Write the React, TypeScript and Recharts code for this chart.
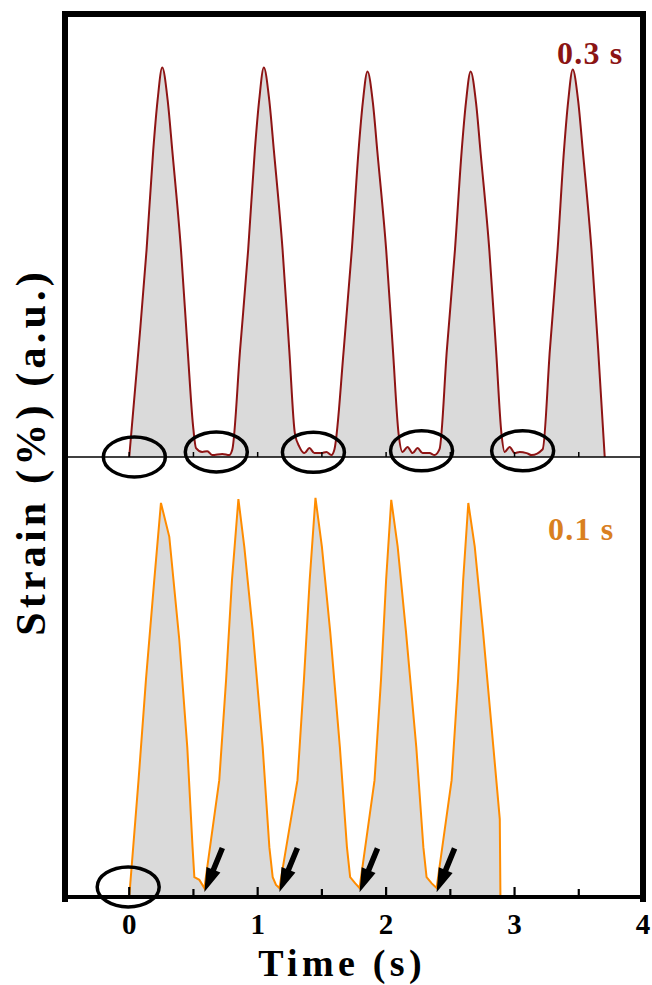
import React from 'react';
import { ComposedChart, Area, XAxis, YAxis, ReferenceDot, Label } from 'recharts';

// ---- Top panel (0.3 s) ----
const topTime = [
  0, 0.072, 0.135, 0.187, 0.221, 0.257, 0.299, 0.335, 0.403, 0.455, 0.497,
  0.52, 0.569, 0.608, 0.647, 0.725, 0.779, 0.803,
  0.863, 0.926, 0.978, 1.012, 1.048, 1.09, 1.126, 1.194, 1.246, 1.29,
  1.325, 1.364, 1.403, 1.442, 1.496, 1.535, 1.574, 1.598,
  1.67, 1.733, 1.785, 1.819, 1.855, 1.897, 1.933, 2.001, 2.053, 2.097,
  2.128, 2.167, 2.206, 2.245, 2.284, 2.338, 2.377, 2.416,
  2.473, 2.536, 2.588, 2.622, 2.658, 2.7, 2.736, 2.804, 2.856, 2.898,
  2.923, 2.962, 3.001, 3.04, 3.094, 3.133, 3.219,
  3.275, 3.335, 3.385, 3.418, 3.453, 3.495, 3.531, 3.599, 3.651, 3.702,
];
const topStrain = [
  0, 0.275, 0.532, 0.788, 0.917, 1.0, 0.917, 0.788, 0.532, 0.275, 0.08,
  0.023, 0.013, 0.015, 0.005, 0.008, 0.005, 0.02,
  0.275, 0.532, 0.788, 0.917, 1.0, 0.917, 0.788, 0.532, 0.275, 0.06,
  0.026, 0.01, 0.023, 0.01, 0.01, 0.013, 0.005, 0.02,
  0.275, 0.532, 0.785, 0.912, 0.99, 0.91, 0.78, 0.53, 0.275, 0.06,
  0.013, 0.026, 0.01, 0.023, 0.01, 0.01, 0.005, 0.02,
  0.275, 0.532, 0.785, 0.912, 0.99, 0.91, 0.78, 0.53, 0.275, 0.06,
  0.013, 0.026, 0.01, 0.013, 0.01, 0.005, 0.02,
  0.275, 0.532, 0.788, 0.915, 0.995, 0.915, 0.788, 0.532, 0.275, 0,
];

// ---- Bottom panel (0.1 s) ----
const bottomTime = [
  0, 0.0725, 0.13, 0.195, 0.247, 0.312, 0.39, 0.452, 0.493, 0.507, 0.546, 0.585,
  0.701, 0.754, 0.8, 0.85, 0.896, 0.961, 1.039, 1.091, 1.117, 1.143, 1.169,
  1.31, 1.36, 1.405, 1.45, 1.5, 1.565, 1.64, 1.695, 1.72, 1.76, 1.793,
  1.91, 1.96, 2.0, 2.04, 2.09, 2.155, 2.235, 2.29, 2.315, 2.355, 2.393,
  2.51, 2.56, 2.6, 2.64, 2.69, 2.755, 2.835, 2.885, 2.89,
];
const bottomStrain = [
  0, 0.3, 0.557, 0.814, 1.012, 0.925, 0.66, 0.385, 0.128, 0.051, 0.044, 0.023,
  0.3, 0.557, 0.814, 1.022, 0.899, 0.686, 0.385, 0.128, 0.051, 0.031, 0.023,
  0.3, 0.557, 0.814, 1.025, 0.9, 0.68, 0.385, 0.128, 0.051, 0.035, 0.023,
  0.3, 0.557, 0.814, 1.02, 0.9, 0.68, 0.385, 0.128, 0.051, 0.035, 0.023,
  0.3, 0.557, 0.814, 1.012, 0.9, 0.68, 0.385, 0.2, 0,
];

const xTicks = [-0.5, 0, 0.5, 1, 1.5, 2, 2.5, 3, 3.5, 4];
const xTickLabels = ['0', '1', '2', '3', '4'];

// annotation anchors (data coordinates)
const topCircleT = [0.04, 0.678, 1.434, 2.276, 3.063];
const topCircleV = [0, 0.013, 0.012, 0.016, 0.016];
const bottomCircleT = [-0.008];
const bottomCircleV = [0.026];
const arrowT = [0.585, 1.169, 1.793, 2.393];
const arrowV = [0.013, 0.013, 0.012, 0.012];

const topData = topTime.map((t, i) => ({ t, v: topStrain[i] }));
const bottomData = bottomTime.map((t, i) => ({ t, v: bottomStrain[i] }));

const FONT = '"Liberation Serif", "Times New Roman", serif';
const W = 652;
const H = 985;

const TopTick = (props: any) => {
  const { x, y } = props;
  return <line x1={x} x2={x} y1={y} y2={y - 5} stroke="#000" strokeWidth={1.5} />;
};

const BottomTick = (props: any) => {
  const { x, y, payload } = props;
  const val = payload.value;
  const major = Number.isInteger(val);
  return (
    <g>
      <line x1={x} x2={x} y1={y} y2={y - (major ? 10 : 8)} stroke="#000" strokeWidth={2.2} />
      {major && val >= 0 && (
        <text x={x} y={y + 37} textAnchor="middle" fontFamily={FONT} fontWeight="bold" fontSize={29} fill="#000">
          {xTickLabels[val]}
        </text>
      )}
    </g>
  );
};

const EllipseShape = (props: any) => (
  <ellipse cx={props.cx} cy={props.cy} rx={31} ry={20} fill="none" stroke="#000" strokeWidth={3.5} />
);

const ArrowShape = (props: any) => {
  const { cx, cy } = props;
  const dx = 18, dy = -44;
  const L = Math.hypot(dx, dy);
  const ux = dx / L, uy = dy / L;
  const px = -uy, py = ux;
  const headLen = 24, headW = 7.5, shaftW = 2.8;
  const bx = cx + ux * headLen, by = cy + uy * headLen;
  const tx = cx + ux * L, ty = cy + uy * L;
  const pts = [
    [cx, cy],
    [bx + px * headW, by + py * headW],
    [bx + px * shaftW, by + py * shaftW],
    [tx + px * shaftW, ty + py * shaftW],
    [tx - px * shaftW, ty - py * shaftW],
    [bx - px * shaftW, by - py * shaftW],
    [bx - px * headW, by - py * headW],
  ];
  return <polygon points={pts.map((p) => p.join(',')).join(' ')} fill="#000" />;
};

export default function App() {
  return (
    <div style={{ position: 'absolute', left: 0, top: 0, width: W, height: H, background: '#fff' }}>
      {/* bottom panel */}
      <div style={{ position: 'absolute', left: 0, top: 0 }}>
        <ComposedChart width={W} height={H} data={bottomData} margin={{ top: 457, right: 9, left: 65, bottom: 0 }}>
          <XAxis
            type="number"
            dataKey="t"
            domain={[-0.5, 4]}
            ticks={xTicks}
            allowDataOverflow
            height={88}
            tickSize={0}
            tickMargin={0}
            tickLine={false}
            tick={<BottomTick />}
            axisLine={{ stroke: '#000', strokeWidth: 4 }}
            interval={0}
          >
            <Label
              value="Time (s)"
              position="insideBottom"
              offset={9}
              dx={-12}
              style={{ fontFamily: FONT, fontWeight: 'bold', fontSize: 38, fill: '#000', letterSpacing: 4.3 }}
            />
          </XAxis>
          <YAxis type="number" domain={[0, 1.13]} hide allowDataOverflow />
          <Area
            type="linear"
            dataKey="v"
            stroke="#FF8C00"
            strokeWidth={2}
            fill="#DADADA"
            fillOpacity={1}
            baseValue={0}
            dot={false}
            activeDot={false}
            isAnimationActive={false}
          />
          {bottomCircleT.map((t, i) => (
            <ReferenceDot key={'bc' + i} x={t} y={bottomCircleV[i]} r={0} ifOverflow="visible" shape={<EllipseShape />} />
          ))}
          {arrowT.map((t, i) => (
            <ReferenceDot key={'ar' + i} x={t} y={arrowV[i]} r={0} ifOverflow="visible" shape={<ArrowShape />} />
          ))}
        </ComposedChart>
      </div>
      {/* top panel */}
      <div style={{ position: 'absolute', left: 0, top: 0 }}>
        <ComposedChart width={W} height={H} data={topData} margin={{ top: 17, right: 9, left: 65, bottom: 526 }}>
          <XAxis
            type="number"
            dataKey="t"
            domain={[-0.5, 4]}
            ticks={xTicks}
            allowDataOverflow
            height={2}
            tickSize={0}
            tickMargin={0}
            tickLine={false}
            tick={<TopTick />}
            axisLine={{ stroke: '#000', strokeWidth: 1.6 }}
            interval={0}
          />
          <YAxis type="number" domain={[0, 1.13]} hide allowDataOverflow />
          <Area
            type="monotone"
            dataKey="v"
            stroke="#8E1414"
            strokeWidth={2}
            fill="#DADADA"
            fillOpacity={1}
            baseValue={0}
            dot={false}
            activeDot={false}
            isAnimationActive={false}
          />
          {topCircleT.map((t, i) => (
            <ReferenceDot key={'tc' + i} x={t} y={topCircleV[i]} r={0} ifOverflow="visible" shape={<EllipseShape />} />
          ))}
        </ComposedChart>
      </div>
      {/* texts and frame */}
      <svg width={W} height={H} style={{ position: 'absolute', left: 0, top: 0, pointerEvents: 'none' }}>
        <text
          transform="translate(45,452) rotate(-90)"
          textAnchor="middle"
          fontFamily={FONT}
          fontWeight="bold"
          fontSize={42}
          letterSpacing={4.2}
          fill="#000"
        >
          Strain (%) (a.u.)
        </text>
        <text x={557} y={64} fontFamily={FONT} fontWeight="bold" fontSize={32} letterSpacing={1.2} fill="#8B1414">
          0.3 s
        </text>
        <text x={548} y={540} fontFamily={FONT} fontWeight="bold" fontSize={32} letterSpacing={1.2} fill="#D9801F">
          0.1 s
        </text>
        <line x1={65} x2={65} y1={11} y2={902} stroke="#000" strokeWidth={6} />
        <line x1={643} x2={643} y1={11} y2={902} stroke="#000" strokeWidth={6} />
        <line x1={62} x2={646} y1={14} y2={14} stroke="#000" strokeWidth={6} />
      </svg>
    </div>
  );
}
